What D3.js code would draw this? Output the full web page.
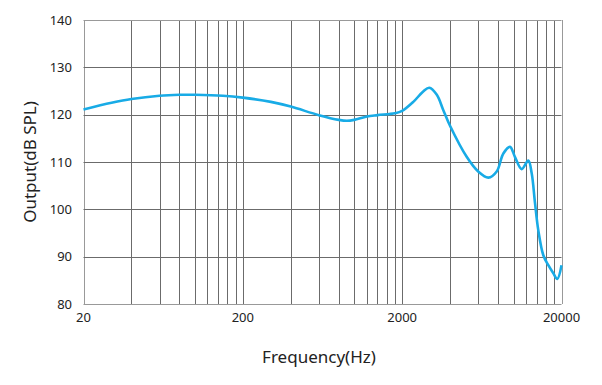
<!DOCTYPE html>
<html>
<head>
<meta charset="utf-8">
<script src="https://cdn.jsdelivr.net/npm/d3@7"></script>
<style>
  body { margin: 0; background: #fff; }
  svg { display: block; font-family: "Noto Sans", "Open Sans", sans-serif; }
</style>
</head>
<body>
<svg width="602" height="385"></svg>
<script>
// frequency response
var freq = [20, 30, 40, 60, 80, 100, 150, 200, 300, 400, 600, 800, 900, 1000, 1200, 1400, 1800, 2000,
  2350, 2710, 2960, 3300, 3620, 4000, 5080, 6000, 6950, 7840, 8630, 9500, 10200, 11250, 12380,
  13000, 13640, 14300, 15380, 16530, 17770, 18820, 20000]
var spl = [121.1, 122.5, 123.3, 124.0, 124.2, 124.2, 124.0, 123.6, 122.7, 121.7, 119.9, 118.9, 118.7, 118.9, 119.6, 119.9, 120.3, 120.8,
  122.7, 124.9, 125.7, 124.2, 121.0, 117.6, 111.1, 108.0, 106.7, 108.0, 111.8, 113.2, 111.1, 108.5, 110.3,
  107.6, 101.3, 95.6, 90.3, 88.2, 86.5, 85.3, 88.2]

var xTicks = [20, 200, 2000, 20000]
var yTicks = [80, 90, 100, 110, 120, 130, 140]
// vertical grid: 20,40,...,180 in every decade
var xGrid = []
;[1, 10, 100].forEach(function(m){
  for (var k = 1; k <= 9; k++) xGrid.push(20 * k * m)
})
xGrid.push(20000)

var svg = d3.select('svg')
var plotLeft = 83.5, plotRight = 561.5, plotTop = 20, plotBottom = 304

var x = d3.scaleLog().domain([20, 20000]).range([plotLeft, plotRight])
var y = d3.scaleLinear().domain([80, 140]).range([plotBottom, plotTop])

var grid = svg.append('g')
grid.selectAll('line.v').data(xGrid).enter()
  .append('line')
  .attr('class', 'v')
  .attr('x1', function(d){ return Math.round(x(d)) + 0.5 })
  .attr('x2', function(d){ return Math.round(x(d)) + 0.5 })
  .attr('y1', plotTop)
  .attr('y2', plotBottom)
  .attr('stroke', function(d){ return (d == 20 || d == 20000) ? '#999' : '#6b6b6b' })
  .attr('stroke-width', 1)

grid.selectAll('line.h').data(yTicks).enter()
  .append('line')
  .attr('class', 'h')
  .attr('x1', plotLeft)
  .attr('x2', plotRight)
  .attr('y1', function(d){ return Math.round(y(d)) + 0.5 })
  .attr('y2', function(d){ return Math.round(y(d)) + 0.5 })
  .attr('stroke', function(d){ return (d == 80 || d == 140) ? '#999' : '#6b6b6b' })
  .attr('stroke-width', 1)

svg.selectAll('text.yl').data(yTicks).enter()
  .append('text')
  .attr('class', 'yl')
  .attr('x', 72)
  .attr('y', function(d){ return y(d) })
  .attr('dy', '0.35em')
  .attr('text-anchor', 'end')
  .attr('font-size', 13)
  .attr('fill', '#222')
  .text(function(d){ return d })

svg.selectAll('text.xl').data(xTicks).enter()
  .append('text')
  .attr('class', 'xl')
  .attr('x', function(d){ return x(d) })
  .attr('y', 322)
  .attr('text-anchor', 'middle')
  .attr('font-size', 13)
  .attr('fill', '#222')
  .text(function(d){ return d })

var line = d3.line()
  .x(function(d, i){ return x(freq[i]) })
  .y(function(d){ return y(d) })
  .curve(d3.curveCatmullRom.alpha(0.5))

svg.append('path')
  .datum(spl)
  .attr('d', line)
  .attr('fill', 'none')
  .attr('stroke', '#18abe6')
  .attr('stroke-width', 2.6)
  .attr('stroke-linejoin', 'round')

svg.append('text')
  .attr('x', 319)
  .attr('y', 363)
  .attr('text-anchor', 'middle')
  .attr('font-size', 17)
  .attr('fill', '#222')
  .text('Frequency(Hz)')

svg.append('text')
  .attr('transform', 'translate(36,162) rotate(-90)')
  .attr('text-anchor', 'middle')
  .attr('font-size', 17)
  .attr('fill', '#222')
  .text('Output(dB SPL)')
</script>
</body>
</html>
